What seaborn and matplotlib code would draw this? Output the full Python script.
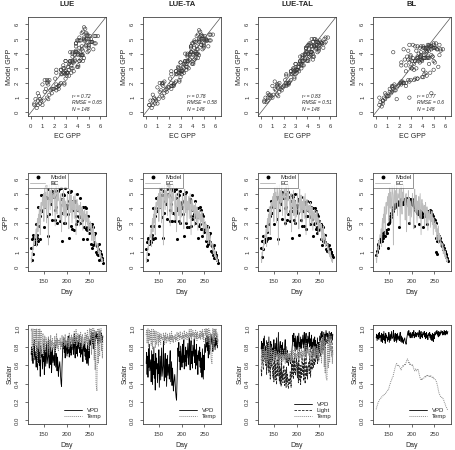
import matplotlib
matplotlib.use("Agg")
import matplotlib.pyplot as plt
from matplotlib.lines import Line2D
import seaborn as sns

models = ["LUE", "LUE-TA", "LUE-TAL", "BL"]
r2_vals = ["0.72", "0.78", "0.83", "0.77"]
rmse_vals = ["0.65", "0.58", "0.51", "0.6"]
n_obs = "148"

missing_days = [131, 146, 158, 171, 184, 199, 213, 226, 238, 252, 266]
days = [d for d in range(122, 281) if d not in missing_days]

# EC (eddy covariance) GPP
ec_gpp = [
    0.6, 0.3, 1.0, 0.8, 1.4, 1.2, 1.8, 1.5, 2.2,
    2.0, 2.6, 1.4, 2.9, 3.3, 2.4, 3.6, 3.0, 4.1, 3.4, 2.2, 4.0, 4.4, 3.6,
    4.8, 4.2, 5.0, 3.1, 4.6, 5.4, 4.0, 5.1, 4.5, 3.0, 5.5,
    4.9, 1.5, 4.3, 5.6, 4.8, 3.9, 5.2, 4.4, 5.8, 4.6, 3.5, 5.0,
    4.7, 5.3, 4.1, 2.8, 4.9, 5.5, 4.3, 3.6, 5.1, 4.5, 5.6, 4.8,
    4.2, 3.2, 4.8, 5.0, 2.4, 3.9, 4.6, 4.1, 5.2, 3.5, 4.7, 4.4, 2.9, 4.5,
    3.4, 4.3, 5.0, 4.6, 3.8, 2.6, 4.4, 5.3, 4.2, 3.7, 4.9, 4.1, 3.0,
    4.5, 3.9, 4.8, 3.3, 4.2, 5.0, 3.6, 2.2, 4.0, 4.6, 3.8, 4.3,
    3.7, 4.2, 2.8, 3.9, 4.4, 3.4, 3.0, 4.1, 3.6, 2.5, 3.8,
    3.2, 3.9, 3.5, 2.7, 3.6, 3.1, 3.8, 2.9, 3.4, 2.2, 3.3, 3.0, 2.6,
    3.1, 2.4, 2.9, 1.8, 2.6, 2.2, 2.8, 1.6, 2.3, 1.9, 2.1, 1.4, 1.7,
    1.5, 1.2, 1.6, 0.9, 1.3, 1.0, 0.7, 1.1, 0.6, 0.8, 0.4, 0.6, 0.3, 0.5,
]

gpp_lue = [
    1.3, 0.5, 1.9, 0.9, 2.0, 2.2, 1.6, 1.9, 1.7,
    1.6, 2.9, 2.2, 2.0, 3.3, 1.8, 4.1, 2.8, 3.1, 3.5, 1.9, 4.9, 3.9, 3.8,
    4.6, 4.9, 4.4, 2.7, 4.9, 4.3, 4.1, 4.8, 5.5, 3.5, 4.7,
    5.3, 2.1, 3.6, 4.7, 5.0, 4.7, 4.8, 4.3, 5.2, 5.8, 3.2, 5.0,
    5.7, 4.8, 3.9, 3.2, 4.1, 5.2, 4.9, 3.0, 5.2, 3.5, 5.2, 5.3,
    3.5, 3.1, 5.4, 4.6, 1.8, 4.2, 3.7, 4.9, 5.0, 3.0, 4.9, 5.4, 3.0, 4.2,
    4.1, 4.0, 4.2, 5.1, 3.6, 2.0, 4.5, 4.8, 5.1, 2.8, 5.2, 4.0, 2.6,
    3.9, 4.5, 4.5, 2.5, 4.4, 4.5, 3.5, 2.9, 3.1, 5.0, 3.9, 3.9,
    3.4, 3.5, 3.0, 4.7, 3.9, 3.4, 3.5, 3.2, 3.4, 1.9, 4.1,
    2.7, 4.1, 2.7, 2.6, 4.0, 2.5, 3.5, 1.9, 3.5, 2.7, 2.9, 2.3, 2.6,
    2.7, 1.6, 2.7, 1.3, 2.9, 1.5, 2.7, 2.2, 1.7, 1.6, 2.3, 1.0, 1.5,
    0.9, 1.4, 1.2, 0.8, 1.6, 0.5, 1.1, 0.8, 0.8, 0.6, 0.9, 0.5, 0.6, 0.3,
]

gpp_lue_ta = [
    1.2, 0.5, 1.7, 0.9, 1.9, 2.0, 1.6, 1.8, 1.8,
    1.7, 2.8, 2.0, 2.2, 3.3, 1.9, 4.0, 2.8, 3.3, 3.5, 2.0, 4.7, 4.0, 3.8,
    4.6, 4.8, 4.5, 2.8, 4.8, 4.5, 4.1, 4.9, 5.3, 3.4, 4.9,
    5.2, 2.0, 3.7, 4.9, 5.0, 4.5, 4.9, 4.3, 5.3, 5.6, 3.3, 5.0,
    5.5, 4.9, 3.9, 3.1, 4.3, 5.3, 4.8, 3.1, 5.2, 3.7, 5.3, 5.2,
    3.6, 3.1, 5.3, 4.7, 1.9, 4.1, 3.9, 4.7, 5.0, 3.1, 4.9, 5.2, 3.0, 4.3,
    4.0, 4.1, 4.4, 5.0, 3.6, 2.1, 4.5, 4.9, 4.9, 3.0, 5.1, 4.0, 2.7,
    4.0, 4.4, 4.6, 2.7, 4.4, 4.6, 3.5, 2.8, 3.3, 4.9, 3.9, 4.0,
    3.5, 3.6, 3.0, 4.5, 4.0, 3.4, 3.4, 3.4, 3.4, 2.0, 4.0,
    2.8, 4.1, 2.9, 2.6, 3.9, 2.6, 3.6, 2.1, 3.5, 2.6, 3.0, 2.4, 2.6,
    2.8, 1.8, 2.7, 1.4, 2.8, 1.6, 2.7, 2.1, 1.8, 1.7, 2.3, 1.1, 1.5,
    1.0, 1.4, 1.3, 0.8, 1.5, 0.6, 1.0, 0.9, 0.8, 0.6, 0.8, 0.5, 0.5, 0.3,
]

gpp_lue_tal = [
    1.3, 0.7, 1.8, 1.2, 1.8, 2.1, 1.7, 1.7, 1.9,
    1.8, 2.8, 1.9, 2.4, 3.3, 2.0, 3.9, 2.9, 3.5, 3.5, 2.0, 4.5, 4.1, 3.7,
    4.4, 4.6, 4.3, 2.9, 4.5, 4.4, 4.1, 4.6, 4.8, 3.3, 4.7,
    4.8, 1.9, 3.9, 4.8, 4.6, 4.4, 4.7, 4.3, 5.1, 5.0, 3.3, 4.7,
    5.0, 4.7, 4.0, 3.0, 4.1, 5.0, 4.7, 3.2, 4.9, 3.6, 5.1, 4.8,
    3.8, 3.1, 4.9, 4.5, 2.0, 4.1, 3.8, 4.6, 4.8, 3.2, 4.5, 5.0, 3.0, 4.0,
    3.8, 4.1, 4.2, 4.6, 3.7, 2.2, 4.5, 4.7, 4.7, 3.2, 4.8, 4.0, 2.8,
    3.8, 4.3, 4.3, 2.8, 4.3, 4.4, 3.5, 2.6, 3.5, 4.5, 3.9, 4.1,
    3.5, 3.8, 2.9, 4.4, 4.1, 3.4, 3.3, 3.6, 3.5, 2.1, 4.0,
    2.9, 4.0, 3.0, 2.6, 3.8, 2.7, 3.6, 2.3, 3.5, 2.5, 3.1, 2.6, 2.6,
    2.9, 1.9, 2.8, 1.5, 2.8, 1.8, 2.7, 2.0, 1.9, 1.7, 2.2, 1.2, 1.6,
    1.1, 1.6, 1.4, 1.1, 1.5, 1.0, 1.2, 1.2, 1.0, 1.0, 1.0, 0.8, 0.8, 0.7,
]

gpp_bl = [
    0.8, 1.0, 1.1, 1.3, 1.4, 1.6, 1.7, 1.8, 1.9,
    1.9, 2.0, 1.8, 2.1, 2.2, 2.0, 2.3, 2.2, 2.4, 2.3, 2.1, 2.4, 2.5, 2.3,
    1.3, 2.6, 2.9, 3.0, 3.3, 3.1, 3.5, 3.4, 3.7, 3.6, 3.9,
    3.8, 4.1, 4.0, 4.2, 4.3, 4.1, 4.4, 4.2, 4.3, 4.5, 4.2, 4.4,
    2.7, 4.3, 4.5, 4.2, 4.4, 4.6, 4.3, 4.5, 4.4, 4.6, 4.3, 4.5,
    4.4, 4.6, 4.5, 4.7, 4.3, 4.5, 4.6, 4.4, 4.7, 3.0, 4.5, 4.4, 4.6, 4.3,
    4.5, 4.4, 4.6, 4.2, 4.4, 2.8, 4.1, 4.3, 3.9, 4.0, 3.8, 3.7, 3.9,
    3.8, 3.6, 3.9, 2.9, 3.7, 3.5, 3.8, 3.4, 3.6, 3.7, 3.4, 2.7,
    3.5, 3.7, 3.6, 3.8, 3.7, 3.5, 3.8, 2.9, 3.7, 3.6, 3.8,
    3.7, 3.9, 3.6, 3.8, 3.7, 3.5, 3.6, 3.4, 3.5, 3.2, 3.3, 3.1, 3.2,
    3.0, 2.0, 1.0, 0.9, 1.8, 2.0, 2.2, 1.9, 2.1, 1.8, 2.0, 1.7, 1.5,
    1.6, 1.4, 1.5, 1.2, 1.3, 1.1, 1.0, 1.1, 0.8, 0.9, 0.7, 0.6, 0.5, 0.4,
]

# environmental scalars per model
lue_vpd = [
    0.72, 0.80, 0.65, 0.78, 0.62, 0.84, 0.70, 0.88, 0.66,
    0.75, 0.58, 0.82, 0.68, 0.55, 0.79, 0.63, 0.86, 0.60, 0.74, 0.48, 0.81, 0.69, 0.77,
    0.56, 0.72, 0.64, 0.83, 0.50, 0.67, 0.78, 0.59, 0.73, 0.85, 0.62,
    0.70, 0.90, 0.64, 0.57, 0.74, 0.80, 0.61, 0.76, 0.52, 0.68, 0.79, 0.63,
    0.71, 0.60, 0.75, 0.82, 0.58, 0.66, 0.73, 0.54, 0.69, 0.62, 0.48, 0.57,
    0.64, 0.55, 0.47, 0.40, 0.37, 0.58, 0.72, 0.85, 0.78, 0.90, 0.74, 0.82, 0.68, 0.87,
    0.76, 0.70, 0.88, 0.73, 0.81, 0.92, 0.69, 0.79, 0.74, 0.86, 0.71, 0.83, 0.77,
    0.89, 0.72, 0.80, 0.94, 0.76, 0.68, 0.85, 0.91, 0.73, 0.82, 0.70, 0.87,
    0.78, 0.93, 0.74, 0.84, 0.69, 0.80, 0.88, 0.72, 0.79, 0.64, 0.83,
    0.75, 0.86, 0.70, 0.81, 0.66, 0.77, 0.62, 0.84, 0.73, 0.60, 0.79, 0.68, 0.88,
    0.82, 0.93, 0.87, 0.96, 0.84, 0.90, 0.78, 0.95, 0.88, 0.81, 0.92, 0.86, 0.97,
    0.89, 0.94, 0.83, 0.91, 0.87, 0.96, 0.90, 0.85, 0.93, 0.88, 0.95, 0.91, 0.86, 0.92,
]
lue_temp = [
    0.98, 1.00, 0.74, 0.95, 1.00, 0.68, 0.92, 1.00, 0.81,
    0.99, 0.70, 1.00, 0.85, 0.62, 0.97, 1.00, 0.78, 0.93, 1.00, 0.66, 0.88, 0.98, 0.72,
    0.84, 0.95, 0.70, 0.88, 0.77, 0.92, 0.81, 0.74, 0.90, 0.83, 0.86,
    0.78, 0.91, 0.84, 0.72, 0.88, 0.80, 0.93, 0.75, 0.86, 0.82, 0.90, 0.77,
    0.85, 0.79, 0.92, 0.74, 0.87, 0.81, 0.95, 0.78, 0.89, 0.83, 0.76, 0.88,
    0.82, 0.90, 0.77, 0.86, 0.80, 0.93, 0.84, 0.79, 0.91, 0.85, 0.88, 0.81, 0.94, 0.83,
    0.87, 0.80, 0.92, 0.84, 0.89, 0.78, 0.95, 0.86, 0.82, 0.90, 0.85, 0.93, 0.80,
    0.91, 0.84, 0.88, 0.97, 0.83, 0.90, 0.86, 0.99, 0.81, 0.92, 0.87, 0.95,
    0.85, 0.93, 0.80, 0.89, 0.96, 0.84, 0.91, 0.78, 0.94, 0.87, 0.82,
    0.90, 0.83, 0.96, 0.79, 0.88, 0.93, 0.85, 0.98, 0.82, 0.91, 0.76, 0.95, 1.00,
    0.88, 1.00, 0.72, 0.97, 1.00, 0.84, 0.95, 1.00, 0.66, 0.98, 0.55, 0.90, 0.40,
    0.32, 0.78, 1.00, 0.62, 0.94, 1.00, 0.70, 0.97, 0.85, 1.00, 0.76, 0.92, 0.68, 0.88,
]
lue_ta_vpd = [
    0.62, 0.74, 0.50, 0.70, 0.47, 0.78, 0.58, 0.83, 0.54,
    0.66, 0.42, 0.76, 0.57, 0.39, 0.72, 0.50, 0.80, 0.46, 0.64, 0.33, 0.73, 0.56, 0.68,
    0.41, 0.62, 0.51, 0.77, 0.36, 0.55, 0.70, 0.44, 0.63, 0.79, 0.48,
    0.60, 0.86, 0.52, 0.43, 0.65, 0.73, 0.47, 0.67, 0.37, 0.56, 0.71, 0.49,
    0.61, 0.45, 0.66, 0.76, 0.42, 0.53, 0.64, 0.38, 0.57, 0.48, 0.32, 0.41,
    0.50, 0.39, 0.31, 0.25, 0.22, 0.43, 0.62, 0.79, 0.70, 0.85, 0.64, 0.75, 0.55, 0.81,
    0.67, 0.58, 0.83, 0.63, 0.74, 0.88, 0.56, 0.71, 0.64, 0.80, 0.59, 0.76, 0.68,
    0.84, 0.61, 0.72, 0.90, 0.66, 0.55, 0.79, 0.87, 0.62, 0.75, 0.57, 0.82,
    0.70, 0.89, 0.63, 0.77, 0.56, 0.72, 0.83, 0.60, 0.71, 0.50, 0.76,
    0.65, 0.80, 0.58, 0.74, 0.52, 0.68, 0.47, 0.78, 0.62, 0.45, 0.71, 0.55, 0.83,
    0.74, 0.90, 0.80, 0.93, 0.76, 0.85, 0.68, 0.92, 0.81, 0.72, 0.88, 0.78, 0.94,
    0.83, 0.90, 0.75, 0.87, 0.80, 0.94, 0.85, 0.77, 0.90, 0.82, 0.93, 0.86, 0.79, 0.88,
]
lue_ta_temp = [
    0.93, 0.99, 0.84, 0.96, 1.00, 0.80, 0.94, 0.99, 0.87,
    0.97, 0.82, 1.00, 0.90, 0.78, 0.96, 0.99, 0.86, 0.94, 0.98, 0.79, 0.92, 0.97, 0.83,
    0.90, 0.96, 0.81, 0.93, 0.86, 0.95, 0.88, 0.83, 0.94, 0.89, 0.91,
    0.87, 0.95, 0.90, 0.82, 0.93, 0.88, 0.96, 0.84, 0.91, 0.89, 0.94, 0.86,
    0.91, 0.87, 0.95, 0.84, 0.92, 0.88, 0.97, 0.86, 0.93, 0.90, 0.85, 0.92,
    0.89, 0.94, 0.86, 0.91, 0.88, 0.96, 0.90, 0.87, 0.95, 0.91, 0.93, 0.88, 0.97, 0.90,
    0.92, 0.88, 0.96, 0.90, 0.93, 0.87, 0.98, 0.91, 0.89, 0.94, 0.91, 0.96, 0.88,
    0.95, 0.90, 0.93, 0.99, 0.89, 0.94, 0.91, 1.00, 0.88, 0.95, 0.92, 0.98,
    0.91, 0.96, 0.88, 0.94, 0.99, 0.90, 0.95, 0.87, 0.97, 0.92, 0.89,
    0.94, 0.90, 0.98, 0.88, 0.93, 0.97, 0.91, 0.99, 0.89, 0.95, 0.86, 0.98, 1.00,
    0.93, 1.00, 0.85, 0.99, 1.00, 0.91, 0.98, 1.00, 0.82, 0.99, 0.76, 0.95, 0.68,
    0.62, 0.88, 1.00, 0.79, 0.97, 1.00, 0.84, 0.99, 0.92, 1.00, 0.87, 0.96, 0.82, 0.94,
]
lue_tal_vpd = [
    0.78, 0.86, 0.72, 0.84, 0.70, 0.89, 0.76, 0.92, 0.74,
    0.81, 0.67, 0.87, 0.75, 0.64, 0.85, 0.71, 0.91, 0.68, 0.80, 0.60, 0.86, 0.76, 0.83,
    0.65, 0.79, 0.72, 0.88, 0.62, 0.74, 0.84, 0.67, 0.79, 0.90, 0.70,
    0.77, 0.94, 0.71, 0.66, 0.80, 0.86, 0.69, 0.82, 0.62, 0.75, 0.85, 0.71,
    0.78, 0.68, 0.81, 0.88, 0.66, 0.73, 0.80, 0.63, 0.76, 0.70, 0.60, 0.66,
    0.72, 0.64, 0.62, 0.66, 0.70, 0.78, 0.84, 0.93, 0.86, 0.95, 0.81, 0.89, 0.76, 0.92,
    0.83, 0.77, 0.92, 0.80, 0.87, 0.95, 0.76, 0.85, 0.80, 0.91, 0.78, 0.88, 0.83,
    0.93, 0.79, 0.86, 0.96, 0.82, 0.75, 0.90, 0.95, 0.80, 0.88, 0.77, 0.92,
    0.84, 0.96, 0.80, 0.89, 0.75, 0.86, 0.93, 0.78, 0.85, 0.71, 0.89,
    0.81, 0.91, 0.76, 0.87, 0.72, 0.83, 0.69, 0.90, 0.79, 0.67, 0.85, 0.74, 0.92,
    0.86, 0.95, 0.90, 0.97, 0.87, 0.93, 0.82, 0.96, 0.91, 0.85, 0.94, 0.89, 0.98,
    0.91, 0.95, 0.86, 0.93, 0.89, 0.97, 0.92, 0.88, 0.95, 0.90, 0.96, 0.93, 0.88, 0.94,
]
lue_tal_light = [
    0.56, 0.48, 0.70, 0.62, 0.78, 0.55, 0.73, 0.66, 0.82,
    0.60, 0.75, 0.50, 0.68, 0.80, 0.57, 0.71, 0.52, 0.76, 0.63, 0.45, 0.69, 0.58, 0.72,
    0.54, 0.47, 0.64, 0.42, 0.58, 0.70, 0.44, 0.61, 0.50, 0.39, 0.66,
    0.48, 0.96, 0.55, 0.43, 0.62, 0.40, 0.57, 0.37, 0.65, 0.46, 0.52, 0.41,
    0.60, 0.44, 0.38, 0.55, 0.47, 0.36, 0.58, 0.42, 0.50, 0.37, 0.35, 0.46,
    0.40, 0.53, 0.44, 0.36, 0.62, 0.48, 0.70, 0.57, 0.45, 0.66, 0.52, 0.74, 0.60, 0.49,
    0.68, 0.55, 0.46, 0.63, 0.41, 0.75, 0.52, 0.44, 0.60, 0.39, 0.57, 0.47, 0.71,
    0.50, 0.62, 0.43, 0.68, 0.54, 0.40, 0.64, 0.83, 0.48, 0.59, 0.45, 0.56,
    0.63, 0.51, 0.72, 0.58, 0.47, 0.66, 0.74, 0.55, 0.62, 0.78, 0.57,
    0.67, 0.60, 0.73, 0.64, 0.79, 0.68, 0.75, 0.62, 0.71, 0.84, 0.66, 0.77, 0.81,
    0.70, 0.78, 0.86, 0.74, 0.82, 0.88, 0.76, 0.90, 0.80, 0.85, 0.79, 0.92, 0.84,
    0.88, 0.83, 0.91, 0.87, 0.94, 0.86, 0.92, 0.89, 0.95, 0.90, 0.84, 0.93, 0.76, 0.72,
]
lue_tal_temp = [
    0.66, 0.74, 0.60, 0.70, 0.78, 0.58, 0.72, 0.81, 0.64,
    0.76, 0.62, 0.83, 0.68, 0.57, 0.79, 0.85, 0.66, 0.75, 0.82, 0.59, 0.71, 0.80, 0.63,
    0.69, 0.77, 0.60, 0.74, 0.65, 0.78, 0.68, 0.62, 0.76, 0.70, 0.72,
    0.66, 0.75, 0.70, 0.61, 0.73, 0.67, 0.78, 0.63, 0.71, 0.69, 0.76, 0.64,
    0.70, 0.66, 0.77, 0.62, 0.72, 0.68, 0.80, 0.65, 0.74, 0.69, 0.63, 0.73,
    0.68, 0.75, 0.64, 0.71, 0.67, 0.78, 0.70, 0.66, 0.76, 0.71, 0.73, 0.68, 0.79, 0.69,
    0.72, 0.67, 0.77, 0.70, 0.74, 0.65, 0.80, 0.72, 0.68, 0.75, 0.71, 0.78, 0.67,
    0.76, 0.70, 0.73, 0.82, 0.69, 0.75, 0.72, 0.84, 0.68, 0.77, 0.73, 0.80,
    0.71, 0.78, 0.67, 0.74, 0.81, 0.70, 0.76, 0.65, 0.79, 0.73, 0.69,
    0.75, 0.70, 0.81, 0.67, 0.74, 0.78, 0.71, 0.83, 0.69, 0.76, 0.64, 0.80, 0.86,
    0.74, 0.88, 0.62, 0.84, 0.91, 0.72, 0.83, 0.93, 0.58, 0.86, 0.52, 0.79, 0.47,
    0.44, 0.68, 0.90, 0.57, 0.82, 0.94, 0.63, 0.85, 0.76, 0.92, 0.70, 0.81, 0.62, 0.78,
]
bl_vpd = [
    0.90, 0.94, 0.87, 0.93, 0.89, 0.95, 0.88, 0.96, 0.90,
    0.93, 0.86, 0.95, 0.89, 0.85, 0.94, 0.88, 0.97, 0.87, 0.92, 0.84, 0.95, 0.90, 0.93,
    0.86, 0.91, 0.88, 0.96, 0.85, 0.90, 0.94, 0.87, 0.92, 0.97, 0.89,
    0.91, 0.98, 0.88, 0.86, 0.93, 0.95, 0.87, 0.94, 0.85, 0.90, 0.95, 0.88,
    0.92, 0.87, 0.93, 0.96, 0.86, 0.89, 0.92, 0.85, 0.90, 0.88, 0.84, 0.87,
    0.90, 0.86, 0.85, 0.83, 0.88, 0.91, 0.94, 0.97, 0.93, 0.98, 0.92, 0.95, 0.90, 0.96,
    0.93, 0.90, 0.96, 0.92, 0.94, 0.98, 0.90, 0.94, 0.92, 0.96, 0.91, 0.95, 0.93,
    0.96, 0.91, 0.94, 0.98, 0.92, 0.89, 0.95, 0.97, 0.91, 0.94, 0.90, 0.96,
    0.93, 0.97, 0.91, 0.95, 0.89, 0.93, 0.96, 0.90, 0.93, 0.88, 0.95,
    0.92, 0.96, 0.90, 0.94, 0.88, 0.93, 0.87, 0.95, 0.91, 0.86, 0.94, 0.89, 0.96,
    0.93, 0.97, 0.95, 0.98, 0.93, 0.96, 0.91, 0.97, 0.95, 0.92, 0.96, 0.94, 0.98,
    0.95, 0.97, 0.93, 0.96, 0.94, 0.98, 0.95, 0.93, 0.97, 0.94, 0.98, 0.96, 0.94, 0.97,
]
bl_temp = [
    0.12, 0.14, 0.16, 0.17, 0.19, 0.20, 0.21, 0.22, 0.23,
    0.24, 0.25, 0.25, 0.26, 0.26, 0.27, 0.27, 0.28, 0.28, 0.29, 0.29, 0.30, 0.30, 0.31,
    0.32, 0.33, 0.33, 0.35, 0.37, 0.39, 0.40, 0.42, 0.43, 0.44, 0.46,
    0.47, 0.50, 0.52, 0.54, 0.56, 0.58, 0.59, 0.61, 0.62, 0.61, 0.60, 0.59,
    0.60, 0.59, 0.58, 0.57, 0.56, 0.55, 0.57, 0.58, 0.59, 0.60, 0.59, 0.60,
    0.61, 0.60, 0.62, 0.63, 0.65, 0.66, 0.67, 0.66, 0.64, 0.62, 0.63, 0.61, 0.62, 0.61,
    0.61, 0.60, 0.61, 0.59, 0.58, 0.56, 0.55, 0.54, 0.55, 0.56, 0.55, 0.54, 0.55,
    0.56, 0.55, 0.52, 0.50, 0.48, 0.46, 0.45, 0.44, 0.45, 0.44, 0.45, 0.46,
    0.46, 0.47, 0.47, 0.48, 0.47, 0.48, 0.48, 0.49, 0.48, 0.49, 0.48,
    0.48, 0.49, 0.48, 0.49, 0.48, 0.48, 0.47, 0.47, 0.46, 0.47, 0.46, 0.45, 0.45,
    0.44, 0.43, 0.42, 0.40, 0.38, 0.36, 0.33, 0.31, 0.29, 0.28, 0.27, 0.26, 0.25,
    0.25, 0.24, 0.24, 0.23, 0.22, 0.20, 0.19, 0.18, 0.16, 0.15, 0.14, 0.13, 0.12, 0.11,
]

model_gpp = {"LUE": gpp_lue, "LUE-TA": gpp_lue_ta, "LUE-TAL": gpp_lue_tal, "BL": gpp_bl}
model_scalars = {
    "LUE": {"VPD": lue_vpd, "Temp": lue_temp},
    "LUE-TA": {"VPD": lue_ta_vpd, "Temp": lue_ta_temp},
    "LUE-TAL": {"VPD": lue_tal_vpd, "Light": lue_tal_light, "Temp": lue_tal_temp},
    "BL": {"VPD": bl_vpd, "Temp": bl_temp},
}

# styling
scalar_styles = {
    "VPD": dict(color="black", linestyle="-", lw=0.6),
    "Light": dict(color="#222222", linestyle=(0, (3, 1.5)), lw=0.6),
    "Temp": dict(color="#8a8a8a", linestyle=(0, (1, 1)), lw=0.7),
}
ec_color = "#bcbcbc"
frame_color = "#444444"
tick_fs = 4.3
label_fs = 5

sns.set_theme(style="ticks")
plt.rcParams["font.family"] = ["Liberation Sans", "DejaVu Sans"]

W, H = 455, 450
fig = plt.figure(figsize=(W / 100, H / 100), dpi=100)
col_x = [28, 143, 258, 373]
col_w = 78
rows_y = [(17, 116), (173, 271), (325, 424)]


def add_ax(x0, y0, x1, y1):
    return fig.add_axes([x0 / W, 1 - y1 / H, (x1 - x0) / W, (y1 - y0) / H])


def style_ax(ax):
    for s in ax.spines.values():
        s.set_visible(True)
        s.set_color(frame_color)
        s.set_linewidth(0.6)
    ax.tick_params(length=2.2, width=0.5, pad=3.5, labelsize=tick_fs,
                   colors="#333333", direction="out")
    ax.tick_params(axis="y", labelrotation=90)
    for lab in ax.get_yticklabels():
        lab.set_va("center")


for j, m in enumerate(models):
    x0 = col_x[j]
    fig.text((x0 + col_w / 2) / W, 1 - 5 / H, m, ha="center", va="center",
             fontsize=5.5, fontweight="bold")

    # row 1: model vs EC scatter
    ax = add_ax(x0, rows_y[0][0], x0 + col_w, rows_y[0][1])
    sns.scatterplot(x=ec_gpp, y=model_gpp[m], ax=ax, marker="o", s=6,
                    facecolor="none", edgecolor="#333333", linewidth=0.4)
    ax.axline((0, 0), slope=1, color="#555555", lw=0.5)
    ax.set_xlim(-0.25, 6.5)
    ax.set_ylim(-0.25, 6.5)
    ax.set_xticks(range(0, 7))
    ax.set_yticks(range(0, 7))
    ax.set_xlabel("EC GPP", fontsize=label_fs)
    ax.set_ylabel("Model GPP", fontsize=label_fs)
    ax.xaxis.set_label_coords(0.5, -0.17)
    ax.yaxis.set_label_coords(-0.19, 0.5)
    ann = ["r\u00b2 = " + r2_vals[j], "RMSE = " + rmse_vals[j], "N = " + n_obs]
    for k, t in enumerate(ann):
        ax.text(0.56, 0.2 - 0.066 * k, t, transform=ax.transAxes,
                fontsize=3.6, fontstyle="italic", va="center")
    style_ax(ax)

    # row 2: time series
    ax = add_ax(x0, rows_y[1][0], x0 + col_w, rows_y[1][1])
    sns.lineplot(x=days, y=ec_gpp, ax=ax, color=ec_color, lw=0.6)
    sns.scatterplot(x=days, y=model_gpp[m], ax=ax, color="black", s=5,
                    linewidth=0)
    ax.set_xlim(115, 287)
    ax.set_ylim(-0.27, 6.4)
    ax.set_xticks([150, 200, 250])
    ax.set_yticks(range(0, 7))
    ax.set_xlabel("Day", fontsize=label_fs)
    ax.set_ylabel("GPP", fontsize=label_fs)
    ax.xaxis.set_label_coords(0.5, -0.18)
    ax.yaxis.set_label_coords(-0.24, 0.5)
    handles = [Line2D([], [], marker="o", ls="", color="black", ms=1.8),
               Line2D([], [], color=ec_color, lw=0.7)]
    leg = ax.legend(handles, ["Model", "EC"], loc="upper left", fontsize=4.3,
                    frameon=True, fancybox=False, borderaxespad=0,
                    handlelength=2.6, borderpad=0.3, labelspacing=0.15,
                    handletextpad=0.8)
    leg.get_frame().set_edgecolor(frame_color)
    leg.get_frame().set_linewidth(0.5)
    style_ax(ax)

    # row 3: scalars
    ax = add_ax(x0, rows_y[2][0], x0 + col_w, rows_y[2][1])
    labels = list(model_scalars[m].keys())
    for lab in labels:
        sns.lineplot(x=days, y=model_scalars[m][lab], ax=ax, **scalar_styles[lab])
    ax.set_xlim(115, 287)
    ax.set_ylim(-0.04, 1.04)
    ax.set_xticks([150, 200, 250])
    ax.set_yticks([0.0, 0.2, 0.4, 0.6, 0.8, 1.0])
    ax.set_yticklabels(["0.0", "0.2", "0.4", "0.6", "0.8", "1.0"])
    ax.set_xlabel("Day", fontsize=label_fs)
    ax.set_ylabel("Scalar", fontsize=label_fs)
    ax.xaxis.set_label_coords(0.5, -0.18)
    ax.yaxis.set_label_coords(-0.19, 0.5)
    handles = [Line2D([], [], **scalar_styles[lab]) for lab in labels]
    ax.legend(handles, labels, loc="lower right", fontsize=4.3, frameon=False,
              handlelength=3, labelspacing=0.15, borderaxespad=0.4)
    style_ax(ax)

fig.savefig("out.png", dpi=100)
